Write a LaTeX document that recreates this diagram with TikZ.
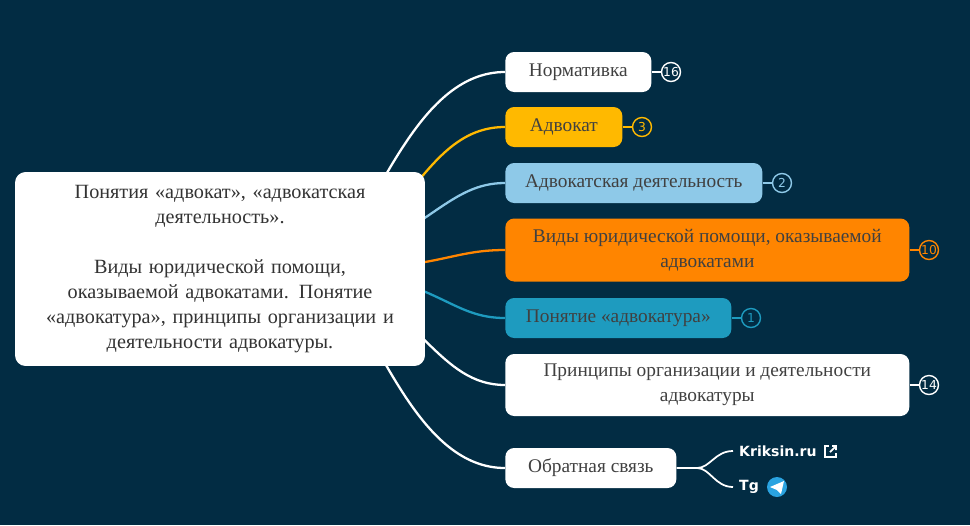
\documentclass[tikz,border=0pt]{standalone}
\usepackage{fontspec}
\setmainfont{Liberation Serif}
\newfontfamily\badgefont{DejaVu Sans}
\usetikzlibrary{positioning}
\definecolor{bgnavy}{HTML}{022C43}
\definecolor{cYellow}{HTML}{FFB900}
\definecolor{cLight}{HTML}{8EC9E8}
\definecolor{cOrange}{HTML}{FF8500}
\definecolor{cTeal}{HTML}{1E9BBF}
\definecolor{cTg}{HTML}{2AA3E0}
\tikzset{
  topic/.style={draw=none,rounded corners=5pt,minimum height=0.8cm,align=center,font=\fontsize{11}{14}\selectfont,text=black!75,anchor=west},
  badge/.style={circle,draw,line width=0.8pt,inner sep=0pt,minimum size=0.38cm,font=\badgefont\fontsize{7}{7}\selectfont},
  branch/.style={line width=1.3pt},
  link/.style={font=\badgefont\bfseries\fontsize{8}{10}\selectfont,text=white,anchor=west}
}
\begin{document}
\begin{tikzpicture}[x=0.02cm,y=-0.02cm]
  \fill[bgnavy] (0,0) rectangle (970,525);
  \useasboundingbox (0,0) rectangle (970,525);

  % anchors for branches
  \coordinate (root) at (330,269);

  % topics
  \node[topic,fill=white,minimum width=2.92cm] (norm) at (505,72) {Нормативка};
  \node[topic,fill=cYellow,minimum width=2.34cm] (advokat) at (505,127) {Адвокат};
  \node[topic,fill=cLight,minimum width=5.14cm] (deyat) at (505,183) {Адвокатская деятельность};
  \node[topic,fill=cOrange,minimum width=8.08cm,minimum height=1.26cm] (vidy) at (505,250) {Виды юридической помощи, оказываемой\\адвокатами};
  \node[topic,fill=cTeal,minimum width=4.52cm] (ponyatie) at (505,318) {Понятие «адвокатура»};
  \node[topic,fill=white,minimum width=8.08cm,minimum height=1.24cm] (princ) at (505,385) {Принципы организации и деятельности\\адвокатуры};
  \node[topic,fill=white,minimum width=3.42cm] (svyaz) at (505,468) {Обратная связь};

  % branches
  \draw[branch,white] (root) .. controls (380,200) and (420,72) .. (norm.west);
  \draw[branch,cYellow] (root) .. controls (410,220) and (430,127) .. (advokat.west);
  \draw[branch,cLight] (root) .. controls (430,230) and (450,183) .. (deyat.west);
  \draw[branch,cOrange] (root) .. controls (440,269) and (450,250) .. (vidy.west);
  \draw[branch,cTeal] (root) .. controls (440,280) and (450,318) .. (ponyatie.west);
  \draw[branch,white] (root) .. controls (420,310) and (440,385) .. (princ.west);
  \draw[branch,white] (root) .. controls (380,340) and (420,468) .. (svyaz.west);

  % central topic
  \node[fill=white,rounded corners=6pt,minimum width=8.2cm,minimum height=3.88cm,text width=7.6cm,align=center,font=\fontsize{11.5}{14.2}\selectfont,text=black!80] (center) at (220,269)
    {Понятия «адвокат», «адвокатская\\деятельность».\\[14.2pt]Виды юридической помощи,\\оказываемой адвокатами. Понятие\\«адвокатура», принципы организации и\\деятельности адвокатуры.};

  % badges
  \node[badge,draw=white,text=white] (bNorm) at (671,72) {16};
  \node[badge,draw=cYellow,text=cYellow] (bAdv) at (642,127) {3};
  \node[badge,draw=cLight,text=cLight] (bDeyat) at (782,183) {2};
  \node[badge,draw=cOrange,text=cOrange] (bVidy) at (929,250) {10};
  \node[badge,draw=cTeal,text=cTeal] (bPon) at (751,318) {1};
  \node[badge,draw=white,text=white] (bPrinc) at (929,385) {14};
  \draw[white,line width=0.8pt] (norm.east) -- (bNorm);
  \draw[cYellow,line width=0.8pt] (advokat.east) -- (bAdv);
  \draw[cLight,line width=0.8pt] (deyat.east) -- (bDeyat);
  \draw[cOrange,line width=0.8pt] (vidy.east) -- (bVidy);
  \draw[cTeal,line width=0.8pt] (ponyatie.east) -- (bPon);
  \draw[white,line width=0.8pt] (princ.east) -- (bPrinc);

  % feedback links
  \node[link] (kriksin) at (733,451) {Kriksin.ru};
  \node[link] (tg) at (733,487) {Tg};
  \coordinate (fork) at (697,468);
  \draw[white,line width=1pt] (svyaz.east) -- (fork)
    .. controls (710,468) and (715,451) .. (kriksin.west);
  \draw[white,line width=1pt] (fork) .. controls (710,468) and (715,487) .. (tg.west);

  % external link icon
  \draw[white,line width=1pt] (829,446) -- (825,446) -- (825,457) -- (836,457) -- (836,453);
  \draw[white,line width=1pt] (830,452) -- (836,446) (832,446) -- (836,446) -- (836,450);
  % telegram icon
  \fill[cTg] (777,487) circle (10);
  \fill[white] (770,487) -- (784,481) -- (781,494) -- (777,490) -- cycle;
\end{tikzpicture}
\end{document}
